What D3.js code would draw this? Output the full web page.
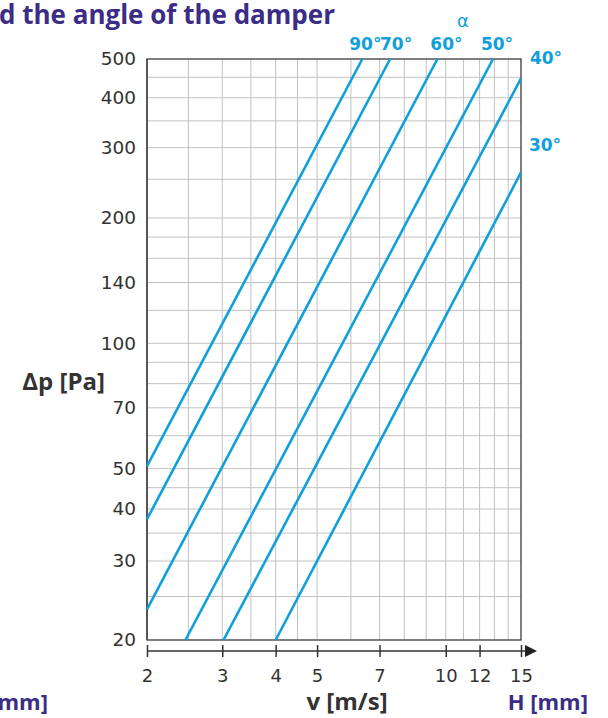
<!DOCTYPE html>
<html>
<head>
<meta charset="utf-8">
<script src="https://cdn.jsdelivr.net/npm/d3@7"></script>
<style>
  body { margin: 0; background: #fff; }
  svg { display: block; }
</style>
</head>
<body>
<svg id="chart" width="608" height="718"></svg>
<script>
// values
const velTicks = [2, 3, 4, 5, 7, 10, 12, 15];
const velGrid = [2.5, 3, 3.5, 4, 4.5, 5, 6, 7, 8, 9, 10, 11, 12, 13, 14];
const dpTicks = [20, 30, 40, 50, 70, 100, 140, 200, 300, 400, 500];
const dpGrid = [25, 30, 35, 40, 45, 50, 60, 70, 80, 90, 100, 120, 140, 160, 180, 200, 250, 300, 350, 400, 450];

// damper angle curves: start point and end point [v, dp]
const angles = ["90°", "70°", "60°", "50°", "40°", "30°"];
const startPts = [[2, 50.7], [2, 37.8], [2, 23.4], [2.46, 20], [3.02, 20], [4.0, 20]];
const endPts = [[6.38, 500], [7.41, 500], [9.56, 500], [12.9, 500], [15, 447], [15, 260]];

const blue = "#0fa0dc";
const purple = "#3b2d85";
const dark = "#333";

const svg = d3.select("#chart");

const x = d3.scaleLog().domain([2, 15]).range([147, 521]);
// the printed grid is not a perfect log scale, so it is piecewise
const y = d3.scaleLog().domain([20, 30, 200, 500]).range([640, 561, 218, 59]);

const plot = svg.append("g");

// grid
plot.selectAll("line.vg").data(velGrid).join("line")
  .attr("class", "vg")
  .attr("x1", d => x(d)).attr("x2", d => x(d))
  .attr("y1", y(20)).attr("y2", y(500))
  .attr("stroke", "#c2c2c2").attr("stroke-width", 1);

plot.selectAll("line.hg").data(dpGrid).join("line")
  .attr("class", "hg")
  .attr("x1", x(2)).attr("x2", x(15))
  .attr("y1", d => y(d)).attr("y2", d => y(d))
  .attr("stroke", "#c2c2c2").attr("stroke-width", 1);

// frame
plot.append("rect")
  .attr("x", x(2)).attr("y", y(500))
  .attr("width", x(15) - x(2)).attr("height", y(20) - y(500))
  .attr("fill", "none").attr("stroke", "#3a3a3a").attr("stroke-width", 1.3);
plot.append("line")
  .attr("x1", x(2)).attr("x2", x(2)).attr("y1", y(500)).attr("y2", y(20))
  .attr("stroke", "#555").attr("stroke-width", 2);

// y tick labels
const yAxis = d3.axisLeft(y).tickValues(dpTicks).tickSize(0).tickPadding(11).tickFormat(d3.format("d"));
const gy = svg.append("g").attr("transform", `translate(${x(2)},0)`).call(yAxis);
gy.select(".domain").remove();
gy.selectAll("text")
  .attr("font-family", "DejaVu Sans").attr("font-size", 18.5).attr("fill", dark);

// x axis below the frame, with arrow
const axisY = 651;
const xAxis = d3.axisBottom(x).tickValues(velTicks).tickSize(6).tickPadding(12).tickFormat(d3.format("d"));
const gx = svg.append("g").attr("transform", `translate(0,${axisY})`).call(xAxis);
gx.select(".domain").remove();
gx.selectAll(".tick line").attr("y1", -6).attr("stroke", "#333").attr("stroke-width", 1.5);
gx.selectAll("text")
  .attr("font-family", "DejaVu Sans").attr("font-size", 18).attr("fill", dark);
svg.append("line")
  .attr("x1", x(2)).attr("x2", x(15) + 6).attr("y1", axisY).attr("y2", axisY)
  .attr("stroke", "#333").attr("stroke-width", 1.5);
svg.append("path")
  .attr("d", `M${x(15) + 4},${axisY - 6}L${x(15) + 16},${axisY}L${x(15) + 4},${axisY + 6}Z`)
  .attr("fill", "#222");

// curves
const line = d3.line().x(d => x(d[0])).y(d => y(d[1]));
plot.selectAll("path.curve").data(angles).join("path")
  .attr("class", "curve")
  .attr("d", (d, i) => line([startPts[i], endPts[i]]))
  .attr("fill", "none").attr("stroke", blue).attr("stroke-width", 2.6);

// angle labels next to the line ends
const labelShift = [[3, -9], [6, -9], [9, -9], [4, -9], [25, -14], [24, -21]];
svg.selectAll("text.ang").data(angles).join("text")
  .attr("class", "ang")
  .attr("x", (d, i) => x(endPts[i][0]) + labelShift[i][0])
  .attr("y", (d, i) => y(endPts[i][1]) + labelShift[i][1])
  .attr("text-anchor", "middle")
  .attr("font-family", "DejaVu Sans").attr("font-weight", "bold")
  .attr("font-size", 17).attr("fill", blue)
  .text(d => d);

svg.append("text").attr("x", 463).attr("y", 27).attr("text-anchor", "middle")
  .attr("font-family", "DejaVu Sans").attr("font-size", 18).attr("fill", blue)
  .text("α");

// titles
svg.append("text").attr("x", -1).attr("y", 24)
  .attr("font-family", "Open Sans").attr("font-weight", "bold")
  .attr("font-size", 26).attr("fill", purple)
  .text("d the angle of the damper");

svg.append("text").attr("x", 105).attr("y", 390).attr("text-anchor", "end")
  .attr("font-family", "Open Sans").attr("font-weight", "bold")
  .attr("font-size", 24).attr("fill", dark)
  .text("Δp [Pa]");

svg.append("text").attr("x", 347).attr("y", 710).attr("text-anchor", "middle")
  .attr("font-family", "Open Sans").attr("font-weight", "bold")
  .attr("font-size", 24).attr("fill", dark)
  .text("v [m/s]");

svg.append("text").attr("x", 588).attr("y", 710).attr("text-anchor", "end")
  .attr("font-family", "Open Sans").attr("font-weight", "bold")
  .attr("font-size", 22).attr("fill", purple)
  .text("H [mm]");

svg.append("text").attr("x", 48).attr("y", 710).attr("text-anchor", "end")
  .attr("font-family", "Open Sans").attr("font-weight", "bold")
  .attr("font-size", 22).attr("fill", purple)
  .text("mm]");
</script>
</body>
</html>
